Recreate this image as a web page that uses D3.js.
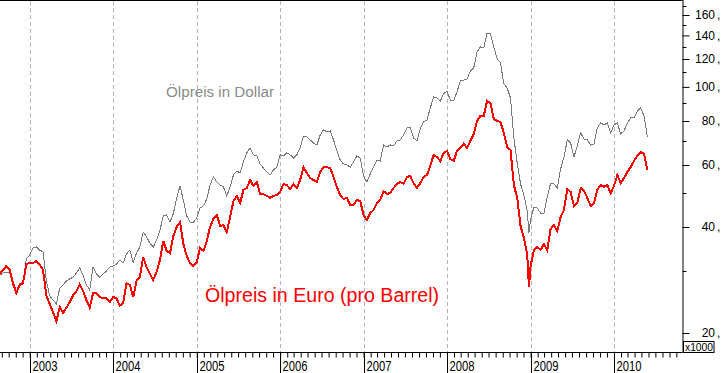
<!DOCTYPE html>
<html><head><meta charset="utf-8">
<script src="https://cdn.jsdelivr.net/npm/d3@7"></script>
<style>body{margin:0;background:#fff;} svg{display:block;font-family:"Liberation Sans",Arial,sans-serif;}</style>
</head><body>
<svg id="c" width="723" height="373"></svg>
<script>
// decimal-year sample dates
const dates = [
2002.64,2002.68,2002.72,2002.76,2002.80,2002.84,2002.88,2002.92,2002.96,
2003.00,2003.04,2003.08,2003.12,2003.16,2003.20,2003.24,2003.28,2003.32,2003.36,2003.40,2003.44,2003.48,2003.52,2003.56,2003.60,2003.64,2003.68,2003.72,2003.76,2003.80,2003.84,2003.88,2003.92,2003.96,
2004.00,2004.04,2004.08,2004.12,2004.16,2004.20,2004.24,2004.28,2004.32,2004.36,2004.40,2004.44,2004.48,2004.52,2004.56,2004.60,2004.64,2004.68,2004.72,2004.76,2004.80,2004.84,2004.88,2004.92,2004.96,
2005.00,2005.04,2005.08,2005.12,2005.16,2005.20,2005.24,2005.28,2005.32,2005.36,2005.40,2005.44,2005.48,2005.52,2005.56,2005.60,2005.64,2005.68,2005.72,2005.76,2005.80,2005.84,2005.88,2005.92,2005.96,
2006.00,2006.04,2006.08,2006.12,2006.16,2006.20,2006.24,2006.28,2006.32,2006.36,2006.40,2006.44,2006.48,2006.52,2006.56,2006.60,2006.64,2006.68,2006.72,2006.76,2006.80,2006.84,2006.88,2006.92,2006.96,
2007.00,2007.04,2007.08,2007.12,2007.16,2007.20,2007.24,2007.28,2007.32,2007.36,2007.40,2007.44,2007.48,2007.52,2007.56,2007.60,2007.64,2007.68,2007.72,2007.76,2007.80,2007.84,2007.88,2007.92,2007.96,
2008.00,2008.04,2008.08,2008.12,2008.16,2008.20,2008.24,2008.28,2008.32,2008.36,2008.40,2008.44,2008.48,2008.52,2008.56,2008.60,2008.64,2008.68,2008.72,2008.76,2008.80,2008.84,2008.88,2008.92,2008.96,2008.98,
2009.00,2009.04,2009.08,2009.12,2009.16,2009.20,2009.24,2009.28,2009.32,2009.36,2009.40,2009.44,2009.48,2009.52,2009.56,2009.60,2009.64,2009.68,2009.72,2009.76,2009.80,2009.84,2009.88,2009.92,2009.96,
2010.00,2010.04,2010.08,2010.12,2010.16,2010.20,2010.24,2010.28,2010.32,2010.36,2010.40
];
// oil price in US dollar
const usd = [
29.2,29.6,29.8,29.6,27.2,26.1,27.6,27.9,32.5,
33.3,34.9,35.1,34.4,34.0,28.1,25.5,24.8,24.2,26.8,27.4,28.1,28.5,28.8,29.6,30.6,29.2,27.4,26.5,30.8,29.4,28.8,29.4,30.0,30.8,
31.0,31.4,32.2,31.6,33.5,34.4,31.8,33.7,35.1,38.7,37.5,36.0,35.1,36.7,39.2,43.0,43.3,41.3,43.6,48.4,52.3,47.7,43.0,41.3,41.3,
42.4,45.3,45.9,48.0,52.6,55.5,53.7,52.6,52.0,49.0,52.0,56.2,57.7,57.0,61.2,65.0,67.1,64.1,63.7,60.4,58.8,57.3,56.2,58.1,59.2,
64.1,63.7,65.0,64.1,62.8,64.1,67.1,72.5,72.1,70.7,69.3,68.4,73.0,75.5,74.5,75.0,70.7,65.8,62.0,60.4,60.0,59.2,61.2,63.7,62.8,
55.8,53.7,56.6,59.2,62.0,61.6,68.4,67.5,68.4,68.0,70.2,70.7,73.0,76.5,76.5,71.6,70.2,76.0,79.5,80.6,87.1,93.6,93.0,91.2,95.5,
97.4,91.8,91.2,96.8,103.9,104.6,105.3,111.0,113.2,125.7,129.9,129.0,142.3,141.4,129.9,120.1,117.0,102.0,99.3,93.0,71.6,60.8,53.0,49.3,44.4,38.5,
41.9,45.6,45.3,43.8,43.6,48.7,53.3,53.0,51.6,58.5,63.2,70.7,69.3,63.2,68.0,74.0,71.1,70.7,68.4,68.8,76.5,79.0,78.0,79.0,74.0,
78.0,79.0,73.5,75.0,79.0,81.6,81.6,85.4,87.1,82.7,72.1
];
// oil price in euro
const eur = [
29.6,30.2,31.0,30.2,27.7,26.0,27.4,27.7,31.4,
31.6,31.6,32.0,31.2,30.2,25.5,24.2,22.9,21.6,23.7,22.8,23.6,24.5,25.6,26.3,27.5,26.3,24.8,23.6,26.0,26.0,25.3,25.1,25.1,24.5,
25.3,25.1,23.9,24.3,27.7,27.4,25.3,28.1,28.8,32.9,30.8,29.4,28.3,29.8,32.2,36.5,34.2,33.7,37.7,40.0,41.3,35.8,33.1,31.6,31.0,
31.8,34.9,34.2,36.5,40.0,42.2,43.3,40.3,40.5,38.7,42.7,47.4,49.0,46.8,51.0,51.6,54.4,52.3,53.7,49.6,49.6,49.0,48.4,49.0,49.3,
50.3,53.0,52.6,51.3,53.0,51.6,54.4,59.2,56.9,55.1,54.4,53.7,57.3,59.2,59.2,58.8,55.5,52.0,49.3,48.0,48.4,46.2,46.2,47.7,47.4,
43.3,41.9,43.8,44.7,46.8,47.7,50.6,49.6,50.0,51.6,53.0,53.7,53.0,55.5,55.8,53.3,51.6,53.3,55.5,56.2,59.6,64.1,63.2,61.6,64.9,
65.8,62.4,61.6,65.8,67.1,68.9,67.1,70.2,73.5,80.0,82.7,82.7,91.2,90.0,81.1,80.0,79.5,74.0,67.5,66.2,52.6,48.4,40.3,37.2,33.3,27.0,
31.0,34.4,35.1,34.4,35.8,34.4,39.5,40.5,39.0,42.7,44.7,51.3,50.3,45.9,46.8,51.6,50.6,48.4,45.9,46.8,51.0,52.6,52.0,52.6,49.9,
52.3,56.2,53.3,55.1,57.3,59.2,61.6,63.7,65.3,64.5,58.1
];
const yMajor = [20,40,60,80,100,120,140,160];
const yMinor = [30,50,70,90,110,130,150,170];
const yearLabels = ["2003","2004","2005","2006","2007","2008","2009","2010"];
const usdLabel = "Ölpreis in Dollar";
const eurLabel = "Ölpreis in Euro (pro Barrel)";

function toDate(t){
  const y = Math.floor(t + 1e-9);
  const a = Date.UTC(y,0,1), b = Date.UTC(y+1,0,1);
  return new Date(a + (t - y) * (b - a));
}

const svg = d3.select("#c");
const right = 682.5, bottom = 352.5;
const x = d3.scaleUtc().domain([new Date(Date.UTC(2003,0,1)), new Date(Date.UTC(2010,0,1))]).range([29.7, 614]);
const y = d3.scaleLog().domain([20,160]).range([333,15]);

// year gridlines
const years = yearLabels.map(s => new Date(Date.UTC(+s,0,1)));
svg.append("g").selectAll("line").data(years).join("line")
  .attr("x1", d => Math.round(x(d)) + 0.5).attr("x2", d => Math.round(x(d)) + 0.5)
  .attr("y1", 1).attr("y2", bottom)
  .attr("stroke", "#b4b4b4").attr("stroke-dasharray", "4,3").attr("stroke-width", 1);

// lines
const line = vals => d3.line().x((d,i) => x(toDate(dates[i]))).y(d => y(d))(vals);
svg.append("path").attr("d", line(usd)).attr("fill","none").attr("stroke","#7a7a7a").attr("stroke-width",1).attr("shape-rendering","crispEdges");
svg.append("path").attr("d", line(eur)).attr("fill","none").attr("stroke","#ff0000").attr("stroke-width",2).attr("shape-rendering","crispEdges");

// frame
svg.append("line").attr("x1",0).attr("x2",right).attr("y1",0.5).attr("y2",0.5).attr("stroke","#000");
svg.append("line").attr("x1",0).attr("x2",right).attr("y1",bottom).attr("y2",bottom).attr("stroke","#000");

// y axis (right)
const gy = svg.append("g").attr("transform", `translate(${right},0)`);
gy.call(d3.axisRight(y).tickValues(yMajor).tickSize(7).tickFormat(d => d));
gy.select(".domain").attr("d", `M0.5,0V${bottom}`).attr("stroke","#000");
gy.selectAll(".tick line").attr("stroke","#000");
gy.selectAll(".tick text").attr("x", 32.5).attr("text-anchor","end").attr("font-size",12).attr("fill","#000").attr("font-family","Liberation Sans, Arial, sans-serif");
gy.selectAll(".tick").append("text").text(",").attr("x", 34.5).attr("dy","0.32em").attr("font-size",12).attr("fill","#000").attr("font-family","Liberation Sans, Arial, sans-serif");
gy.append("g").selectAll("line").data(yMinor).join("line")
  .attr("x1",0).attr("x2",4).attr("y1", d => Math.round(y(d))+0.5).attr("y2", d => Math.round(y(d))+0.5).attr("stroke","#000");

// x axis: monthly ticks
const months = d3.utcMonth.range(new Date(Date.UTC(2002,8,1)), new Date(Date.UTC(2010,10,1)));
const gx = svg.append("g").attr("transform", `translate(0,${bottom})`);
gx.call(d3.axisBottom(x).tickValues(months).tickSize(5).tickFormat(""));
gx.select(".domain").remove();
gx.selectAll(".tick line").attr("stroke","#000");
// year ticks and labels
const gyrs = svg.append("g");
gyrs.selectAll("line").data(years).join("line")
  .attr("x1", d => Math.round(x(d)) + 0.5).attr("x2", d => Math.round(x(d)) + 0.5)
  .attr("y1", bottom).attr("y2", 373).attr("stroke","#000");
gyrs.selectAll("text").data(years).join("text")
  .attr("x", d => Math.round(x(d)) + 2.5).attr("y", 370.5)
  .attr("font-size", 14).attr("textLength", 25).attr("lengthAdjust","spacingAndGlyphs")
  .text((d,i) => yearLabels[i]);

// x1000 box
svg.append("rect").attr("x",683.5).attr("y",341.5).attr("width",30.5).attr("height",11).attr("fill","#fff").attr("stroke","#000");
svg.append("text").attr("x",685).attr("y",351).attr("font-size",10).attr("textLength",28).attr("lengthAdjust","spacingAndGlyphs").text("x1000");

// labels
svg.append("text").attr("x",166).attr("y",97).attr("font-size",15.2).attr("fill","#8a8a8a").text(usdLabel);
svg.append("text").attr("x",205).attr("y",302).attr("font-size",19.6).attr("fill","#ff0000").text(eurLabel);
</script>
</body></html>
